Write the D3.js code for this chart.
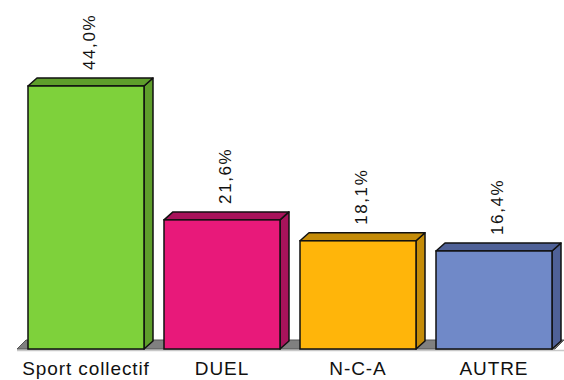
<!DOCTYPE html>
<html>
<head>
<meta charset="utf-8">
<script src="https://cdn.jsdelivr.net/npm/d3@7"></script>
<style>
  html, body { margin: 0; padding: 0; background: #fff; }
  svg { display: block; }
  text { font-family: "Liberation Sans", Arial, sans-serif; }
</style>
</head>
<body>
<svg id="chart" width="564" height="380"></svg>
<script>
// Categories and their shares (%)
const categories = ["Sport collectif", "DUEL", "N-C-A", "AUTRE"];
const values = [44.0, 21.6, 18.1, 16.4];

// Face colours: front, and the shaded top/side
const frontColors = ["#7ED13B", "#E8197A", "#FFB50A", "#7089C8"];
const shadeColors = ["#5E9E2B", "#A8135B", "#C58C08", "#4F6197"];

const W = 564, H = 380;
const depthX = 9, depthY = 8;
const baseY = 349;

const svg = d3.select("#chart");

const x = d3.scaleBand()
  .domain(categories)
  .range([18, 562])
  .paddingInner(20 / 136)
  .paddingOuter(0.0735);

const y = d3.scaleLinear()
  .domain([0, 44])
  .range([baseY, 86]);

const front = d3.scaleOrdinal().domain(categories).range(frontColors);
const shade = d3.scaleOrdinal().domain(categories).range(shadeColors);

// Floor: a grey slab running under all bars
const x0 = x.range()[0] - 1, x1 = x.range()[1] - 7;
svg.append("line")
  .attr("x1", x0).attr("x2", W)
  .attr("y1", baseY + 1.5).attr("y2", baseY + 1.5)
  .attr("stroke", "#c8c8c8").attr("stroke-width", 1.5);
svg.append("path")
  .attr("d", `M${x0},${baseY} L${x1},${baseY} L${x1 + depthX},${baseY - depthY - 1} L${x0 + depthX},${baseY - depthY - 1} Z`)
  .attr("fill", "#808080")
  .attr("stroke", "#555")
  .attr("stroke-width", 1);

const data = categories.map((c, i) => ({ cat: c, value: values[i] }));
const bw = x.bandwidth();

const bars = svg.selectAll("g.bar").data(data).join("g").attr("class", "bar");

// Side face
bars.append("path")
  .attr("d", d => {
    const r = x(d.cat) + bw, t = y(d.value);
    return `M${r},${t} L${r + depthX},${t - depthY} L${r + depthX},${baseY - depthY} L${r},${baseY} Z`;
  })
  .attr("fill", d => shade(d.cat))
  .attr("stroke", "#111").attr("stroke-width", 1.5).attr("stroke-linejoin", "round");

// Top face
bars.append("path")
  .attr("d", d => {
    const l = x(d.cat), r = l + bw, t = y(d.value);
    return `M${l},${t} L${l + depthX},${t - depthY} L${r + depthX},${t - depthY} L${r},${t} Z`;
  })
  .attr("fill", d => shade(d.cat))
  .attr("stroke", "#111").attr("stroke-width", 1.5).attr("stroke-linejoin", "round");

// Front face
bars.append("rect")
  .attr("x", d => x(d.cat))
  .attr("y", d => y(d.value))
  .attr("width", bw)
  .attr("height", d => baseY - y(d.value))
  .attr("fill", d => front(d.cat))
  .attr("stroke", "#111").attr("stroke-width", 1.5);

// Value labels, rotated, above each bar
const fmt = v => d3.format(".1f")(v).replace(".", ",") + "%";
bars.append("text")
  .attr("transform", d => `translate(${x(d.cat) + bw / 2 + 9},${y(d.value) - 16}) rotate(-90)`)
  .attr("text-anchor", "start")
  .attr("font-size", 17)
  .attr("letter-spacing", 1.6)
  .attr("fill", "#111")
  .text(d => fmt(d.value));

// Category labels under the floor
const catLabels = svg.selectAll("text.cat").data(data).join("text")
  .attr("class", "cat")
  .attr("y", 375)
  .attr("font-size", 19)
  .attr("letter-spacing", 0.9)
  .attr("fill", "#111")
  .attr("text-anchor", "start")
  .text(d => d.cat);

catLabels.each(function (d) {
  const len = this.getComputedTextLength();
  const cx = x(d.cat) + bw / 2;
  this.setAttribute("x", Math.max(10, cx - len / 2));
});
</script>
</body>
</html>
